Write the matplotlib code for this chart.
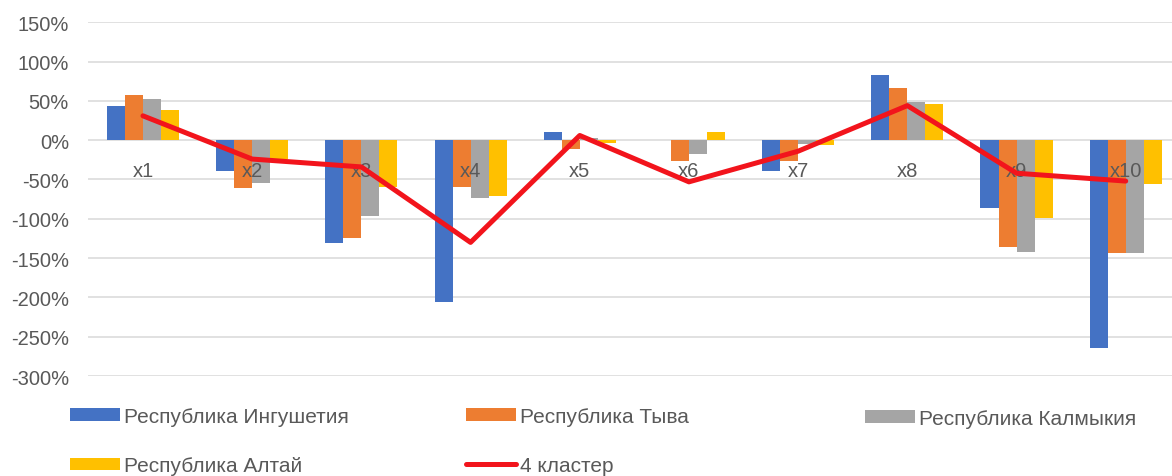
import numpy as np
import matplotlib
matplotlib.use("Agg")
import matplotlib.pyplot as plt
from matplotlib.ticker import FuncFormatter

plt.rcParams['font.family'] = ['Liberation Sans', 'DejaVu Sans']

categories = ['x1', 'x2', 'x3', 'x4', 'x5', 'x6', 'x7', 'x8', 'x9', 'x10']
ingushetia = [43, -39, -131, -206, 11, 0, -39, 83, -86, -264]
tyva = [58, -61, -124, -59, -11, -26, -26, 66, -136, -144]
kalmykia = [53, -54, -96, -74, 3, -17, -5, 48, -142, -144]
altai = [38, -24, -60, -71, -4, 11, -6, 46, -99, -56]
cluster4 = [31, -24, -34, -130, 6, -53, -14, 44, -42, -52]

series_names = ['Республика Ингушетия', 'Республика Тыва', 'Республика Калмыкия', 'Республика Алтай']
colors = ['#4472C4', '#ED7D31', '#A5A5A5', '#FFC000']
line_color = '#F2141C'
text_color = '#595959'

fig = plt.figure(figsize=(11.72, 4.77), dpi=100)
ax = fig.add_axes([0.0754, 0.2096, 0.9317, 0.7416])

x = np.arange(len(categories))
w = 0.165
handles = []
for k, (vals, c, name) in enumerate(zip([ingushetia, tyva, kalmykia, altai], colors, series_names)):
    b = ax.bar(x + (k - 1.5) * w, np.array(vals) / 100, width=w, color=c, label=name, zorder=2)
    handles.append(b)

ln, = ax.plot(x, np.array(cluster4) / 100, color=line_color, lw=3.6, zorder=4,
              solid_joinstyle='round', solid_capstyle='round', label='4 кластер')
handles.append(ln)

ax.set_xlim(-0.5, len(categories) - 0.5)
ax.set_ylim(-3.0, 1.5)
ax.set_yticks(np.arange(-3.0, 1.51, 0.5))
ax.yaxis.set_major_formatter(FuncFormatter(lambda v, p: f'{v*100:.0f}%'))
ax.tick_params(axis='y', length=0, pad=14, labelsize=14.5, labelcolor=text_color)
ax.set_xticks([])
ax.grid(axis='y', color='#D9D9D9', lw=1.1, zorder=0)
ax.set_axisbelow(True)
for s in ax.spines.values():
    s.set_visible(False)

# category labels sit just under the zero line, above bars but below the line
for i, cat in enumerate(categories):
    ax.annotate(cat, xy=(i, 0), xytext=(0, -22), textcoords='offset points',
                ha='center', va='center', fontsize=14.5, color=text_color, zorder=3)

leg_kw = dict(frameon=False, loc='center left', borderpad=0, borderaxespad=0,
              handlelength=2.4, handleheight=0.55, handletextpad=0.2,
              labelspacing=1.45, fontsize=15, labelcolor=text_color)
fig.legend([handles[0], handles[3]], [series_names[0], series_names[3]],
           bbox_to_anchor=(0.0597, 0.073), **leg_kw)
fig.legend([handles[1], handles[4]], [series_names[1], '4 кластер'],
           bbox_to_anchor=(0.3976, 0.073), **leg_kw)
fig.legend([handles[2]], [series_names[2]],
           bbox_to_anchor=(0.738, 0.121), **leg_kw)

plt.savefig('out.png', dpi=100)
